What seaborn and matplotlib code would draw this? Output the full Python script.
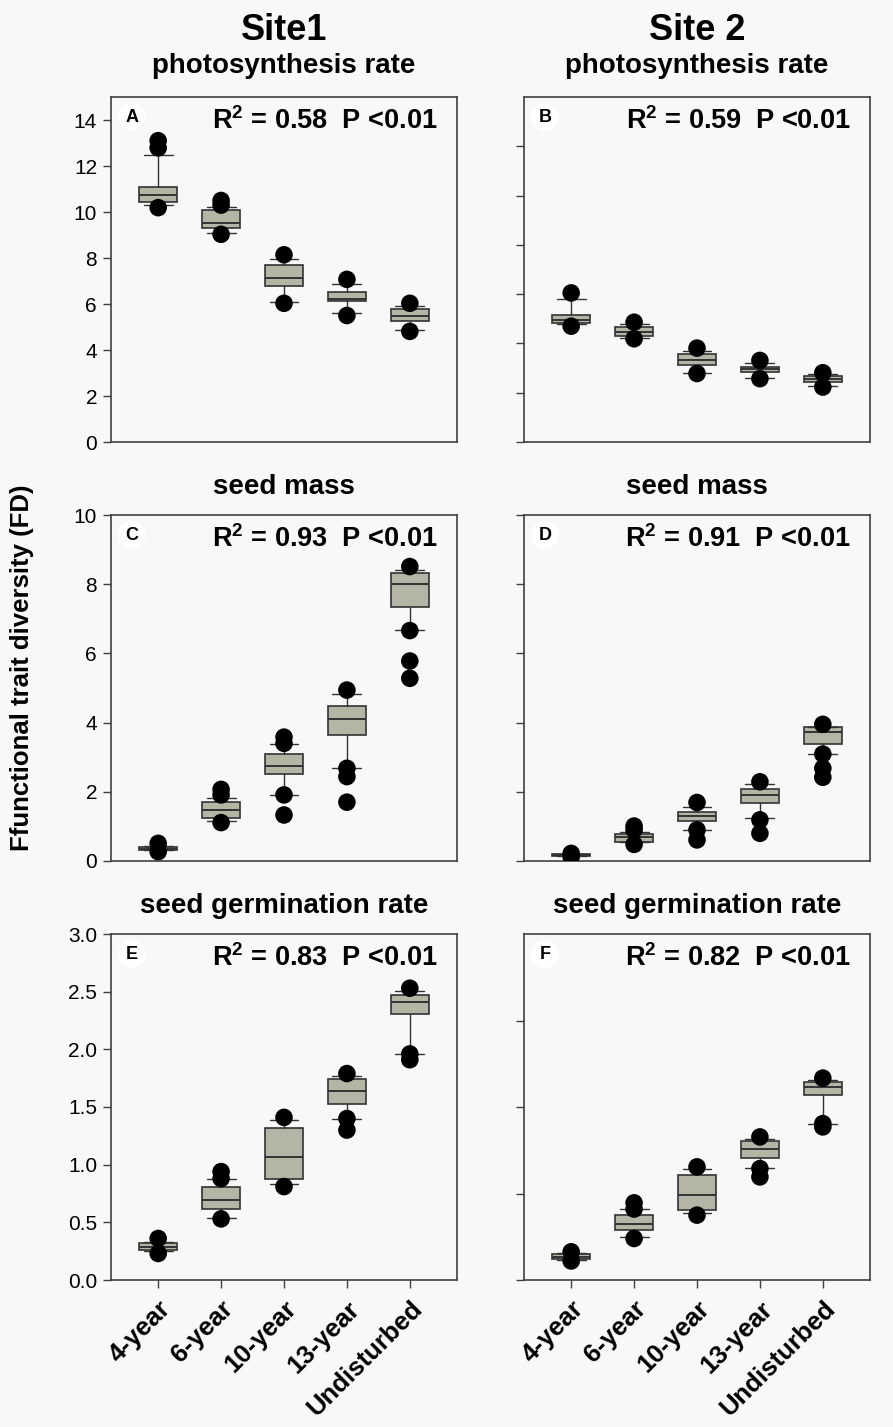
import numpy as np
import pandas as pd
import matplotlib
matplotlib.use("Agg")
import matplotlib.pyplot as plt
import seaborn as sns
from matplotlib import font_manager

# ---------------- data ----------------
categories = ["4-year", "6-year", "10-year", "13-year", "Undisturbed"]

# each box: [lower whisker, Q1, median, Q3, upper whisker]
A_box = [[10.32, 10.42, 10.72, 11.10, 12.50],
         [9.09, 9.29, 9.52, 10.07, 10.22],
         [6.08, 6.78, 7.15, 7.70, 7.95],
         [5.59, 6.14, 6.20, 6.52, 6.88],
         [4.87, 5.25, 5.49, 5.78, 5.91]]
A_out = [[13.10, 12.79, 10.19], [10.50, 10.30, 9.03], [8.14, 6.03], [7.07, 5.50], [6.03, 4.81]]

B_box = [[4.80, 4.81, 4.97, 5.15, 5.80],
         [4.22, 4.30, 4.47, 4.66, 4.77],
         [2.81, 3.14, 3.32, 3.58, 3.68],
         [2.59, 2.84, 2.95, 3.04, 3.19],
         [2.27, 2.43, 2.57, 2.69, 2.74]]
B_out = [[6.05, 4.70], [4.86, 4.19], [3.81, 2.78], [3.31, 2.57], [2.81, 2.23]]

C_box = [[0.31, 0.32, 0.36, 0.40, 0.44],
         [1.17, 1.23, 1.47, 1.70, 1.83],
         [1.92, 2.51, 2.76, 3.09, 3.39],
         [2.70, 3.64, 4.09, 4.49, 4.84],
         [6.69, 7.35, 8.01, 8.32, 8.40]]
C_out = [[0.51, 0.27], [2.07, 1.91, 1.11], [3.58, 3.40, 1.91, 1.33],
         [4.94, 2.68, 2.44, 1.70], [8.51, 6.66, 5.78, 5.28]]

D_box = [[0.14, 0.15, 0.17, 0.19, 0.20],
         [0.56, 0.56, 0.68, 0.79, 0.84],
         [0.90, 1.16, 1.30, 1.43, 1.57],
         [1.23, 1.69, 1.90, 2.07, 2.23],
         [3.09, 3.39, 3.72, 3.86, 3.88]]
D_out = [[0.22, 0.12], [1.01, 0.90, 0.48], [1.69, 0.90, 0.61],
         [2.29, 1.19, 0.80], [3.95, 3.09, 2.68, 2.42]]

E_box = [[0.25, 0.26, 0.289, 0.318, 0.33],
         [0.54, 0.618, 0.694, 0.806, 0.88],
         [0.83, 0.879, 1.07, 1.315, 1.39],
         [1.40, 1.53, 1.64, 1.74, 1.77],
         [1.96, 2.31, 2.41, 2.47, 2.51]]
E_out = [[0.36, 0.23], [0.94, 0.88, 0.53], [1.41, 0.81], [1.79, 1.40, 1.30], [2.53, 1.96, 1.91]]

F_box = [[0.115, 0.119, 0.135, 0.150, 0.154],
         [0.25, 0.287, 0.321, 0.373, 0.408],
         [0.385, 0.406, 0.494, 0.606, 0.642],
         [0.65, 0.706, 0.758, 0.806, 0.817],
         [0.904, 1.067, 1.115, 1.144, 1.158]]
F_out = [[0.163, 0.11], [0.446, 0.41, 0.24], [0.654, 0.375], [0.827, 0.644, 0.596], [1.167, 0.904, 0.885]]

stats_text = {"A": "0.58", "B": "0.59", "C": "0.93", "D": "0.91", "E": "0.83", "F": "0.82"}

ylims = {"A": (0, 15), "B": (0, 14), "C": (0, 10), "D": (0, 10), "E": (0, 3), "F": (0, 2)}
yticks = {"A": np.arange(0, 15, 2), "B": np.arange(0, 14, 2), "C": np.arange(0, 11, 2),
          "D": np.arange(0, 11, 2), "E": np.arange(0, 3.01, 0.5), "F": np.arange(0, 2, 0.5)}

# ---------------- style ----------------
sns.set_style("ticks")
BG = "#f8f8f8"
plt.rcParams["font.family"] = ["Liberation Sans", "DejaVu Sans"]
plt.rcParams["text.color"] = "black"
plt.rcParams["axes.labelcolor"] = "black"
plt.rcParams["xtick.color"] = "black"
plt.rcParams["ytick.color"] = "black"
plt.rcParams["mathtext.fontset"] = "custom"
plt.rcParams["mathtext.bf"] = "Liberation Sans:bold"
plt.rcParams["mathtext.rm"] = "Liberation Sans:bold"

names = {f.name for f in font_manager.fontManager.ttflist}
tick_family = ["Liberation Sans Narrow", "Liberation Sans"] if "Liberation Sans Narrow" in names else ["Liberation Sans"]

fig = plt.figure(figsize=(8.93, 14.27), dpi=100)
fig.patch.set_facecolor(BG)

W, H = 893.0, 1427.0
cols = [(111, 457), (524, 870)]
rows = [(97, 442), (515, 861), (934, 1280)]
panels = [["A", "B"], ["C", "D"], ["E", "F"]]
data = {"A": (A_box, A_out), "B": (B_box, B_out), "C": (C_box, C_out),
        "D": (D_box, D_out), "E": (E_box, E_out), "F": (F_box, F_out)}

edge = "#333333"
face = "#b5b5a5"

for r, (top, bot) in enumerate(rows):
    for c, (lft, rgt) in enumerate(cols):
        key = panels[r][c]
        ax = fig.add_axes([lft / W, 1 - bot / H, (rgt - lft) / W, (bot - top) / H])
        ax.set_facecolor(BG)
        boxes, outs = data[key]
        bstats = []
        for i, b in enumerate(boxes):
            bstats.append(dict(whislo=b[0], q1=b[1], med=b[2], q3=b[3], whishi=b[4],
                               fliers=[], label=categories[i]))
        ax.bxp(bstats, positions=np.arange(len(categories)), widths=0.6, capwidths=0.46,
               patch_artist=True, showfliers=False,
               boxprops=dict(facecolor=face, edgecolor=edge, linewidth=1.2),
               medianprops=dict(color=edge, linewidth=1.4),
               whiskerprops=dict(color=edge, linewidth=1.0),
               capprops=dict(color=edge, linewidth=1.0))
        fx, fy = [], []
        for i, vals in enumerate(outs):
            for v in vals:
                fx.append(i)
                fy.append(v)
        df = pd.DataFrame({"x": fx, "y": fy})
        sns.scatterplot(data=df, x="x", y="y", ax=ax, color="black", s=160,
                        edgecolor="none", zorder=5, legend=False)
        ax.set_xlim(-0.75, 4.75)
        ax.set_ylim(*ylims[key])
        ax.set_yticks(yticks[key])
        ax.set_xlabel("")
        ax.set_ylabel("")
        for s in ax.spines.values():
            s.set_color("#404040")
            s.set_linewidth(1.2)
        ax.tick_params(axis="y", direction="out", length=6, width=1.0, color="#404040",
                       labelsize=15, pad=4)
        ax.tick_params(axis="x", direction="out", length=6, width=1.0, color="#404040")
        if c == 1:
            ax.set_yticklabels([])
        else:
            if key == "E":
                ax.set_yticklabels([f"{v:.1f}" for v in yticks[key]], family=tick_family)
            else:
                ax.set_yticklabels([f"{int(v)}" for v in yticks[key]], family=tick_family)
        ax.set_xticks(np.arange(len(categories)))
        if r == 2:
            ax.set_xticklabels(categories, rotation=45, ha="right", va="top",
                               rotation_mode="anchor", fontsize=18.5, fontweight="bold")
            ax.tick_params(axis="x", pad=6)
        else:
            ax.set_xticks([])
        ax.text(0.06, 0.942, key, transform=ax.transAxes, fontsize=13, fontweight="bold",
                ha="center", va="center",
                bbox=dict(boxstyle="circle,pad=0.3", fc="white", ec="none"))
        ax.text(0.945, 0.93, r"R$^{\mathbf{2}}$ = " + stats_text[key] + "  P <0.01",
                transform=ax.transAxes, fontsize=19.5, fontweight="bold",
                ha="right", va="center")

# column titles
fig.text(284 / W, 1 - 30 / H, "Site1", fontsize=26, fontweight="bold", ha="center", va="center")
fig.text(697 / W, 1 - 30 / H, "Site 2", fontsize=26, fontweight="bold", ha="center", va="center")
subs = [("photosynthesis rate", 66), ("seed mass", 487), ("seed germination rate", 906)]
for txt, y in subs:
    for xc in (284, 697):
        fig.text(xc / W, 1 - y / H, txt, fontsize=20, fontweight="bold", ha="center", va="center")

fig.text(22 / W, 1 - 668 / H, "Ffunctional trait diversity (FD)", rotation=90,
         fontsize=18.5, fontweight="bold", ha="center", va="center")

fig.savefig("out.png", dpi=100, facecolor=BG)
